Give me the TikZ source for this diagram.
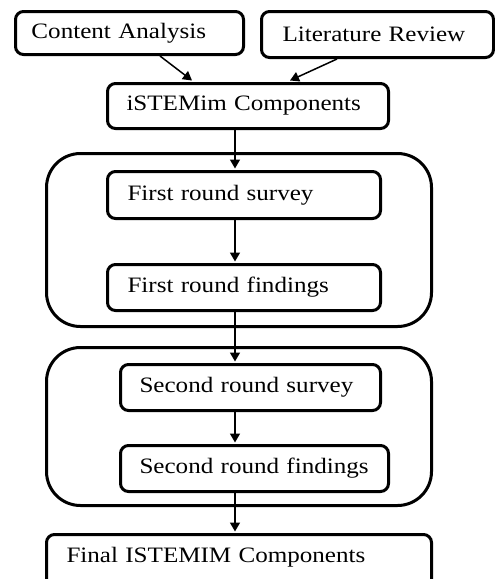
\documentclass[tikz,border=0pt]{standalone}
\usepackage{fontspec}
\setmainfont[FakeStretch=1.14]{Liberation Serif}
\usetikzlibrary{arrows.meta}
\begin{document}
\begin{tikzpicture}[x=1pt,y=-1pt,
  box/.style={draw, line width=3pt, rounded corners=8pt, inner xsep=0pt, inner ysep=0pt,
    align=left, font=\fontsize{22}{26}\selectfont},
  grp/.style={draw, line width=3pt, rounded corners=34pt, inner sep=0pt},
  arr/.style={line width=1.5pt, -{Triangle[length=9pt,width=10pt]}}]
\useasboundingbox (0,0) rectangle (495,579);
\clip (0,0) rectangle (495,579);
\coordinate (ax) at (235,0);
% groups
\node[grp, minimum width=385pt, minimum height=173pt] (g1) at (239,240) {};
\node[grp, minimum width=385pt, minimum height=158pt] (g2) at (239,426.5) {};
% boxes
\node[box, text width=228pt, minimum height=43pt] (ca) at (129.5,33) {\hspace*{16pt}Content Analysis};
\node[box, text width=232pt, minimum height=46pt] (lr) at (377.5,34.5) {\hspace*{21pt}Literature Review};
\node[box, text width=281pt, minimum height=45pt] (ist) at (248,106) {\hspace*{19pt}iSTEMim Components};
\node[box, text width=273pt, minimum height=47pt] (fs) at (244,195) {\hspace*{20pt}First round survey};
\node[box, text width=273pt, minimum height=46pt] (ff) at (244,287.5) {\hspace*{20pt}First round findings};
\node[box, text width=260pt, minimum height=46pt] (ss) at (250.5,387.5) {\hspace*{19pt}Second round survey};
\node[box, text width=268pt, minimum height=46pt] (sf) at (254.5,468.5) {\hspace*{19pt}Second round findings};
\node[box, text width=385pt, minimum height=55.5pt, text height=15pt, text depth=15pt] (fin) at (239,562.25) {\hspace*{20pt}Final ISTEMIM Components};
% connectors
\draw[arr] ([xshift=30.5pt]ca.south) -- ([xshift=-56pt,yshift=1.5pt]ist.north);
\draw[arr] ([xshift=-40.5pt]lr.south) -- ([xshift=42pt,yshift=1.5pt]ist.north);
\draw[arr] (ist.south -| ax) -- ([yshift=1.5pt]fs.north -| ax);
\draw[arr] (fs.south -| ax) -- ([yshift=1.5pt]ff.north -| ax);
\draw[arr] (ff.south -| ax) -- ([yshift=1.5pt]ss.north -| ax);
\draw[arr] (ss.south -| ax) -- ([yshift=1.5pt]sf.north -| ax);
\draw[arr] (sf.south -| ax) -- ([yshift=1.5pt]fin.north -| ax);
\end{tikzpicture}
\end{document}
